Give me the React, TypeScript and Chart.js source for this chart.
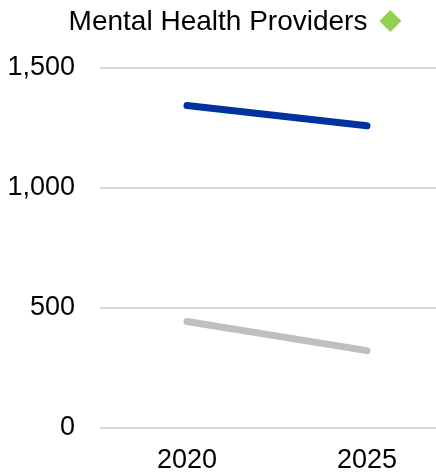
import React, { useEffect, useRef } from "react";
import { Chart, registerables } from "chart.js";

Chart.register(...registerables);

const years = [2020, 2025];
const seriesBlue = [1342, 1258];
const seriesGray = [443, 322];
const yTicks = [0, 500, 1000, 1500];
const titleText = "Mental Health Providers";

const FONT = "'Liberation Sans', Arial, sans-serif";

const diamondPlugin = {
  id: "titleDiamond",
  afterDraw(chart: any) {
    const ctx = chart.ctx;
    ctx.save();
    ctx.font = `28px ${FONT}`;
    const w = ctx.measureText(titleText).width;
    const cx = chart.width / 2 + w / 2 + 23;
    const cy = 21;
    const r = 11;
    ctx.fillStyle = "#92D050";
    ctx.beginPath();
    ctx.moveTo(cx, cy - r);
    ctx.lineTo(cx + r, cy);
    ctx.lineTo(cx, cy + r);
    ctx.lineTo(cx - r, cy);
    ctx.closePath();
    ctx.fill();
    ctx.restore();
  },
};

export default function App() {
  const ref = useRef<HTMLCanvasElement | null>(null);
  useEffect(() => {
    if (!ref.current) return;
    const chart = new Chart(ref.current, {
      type: "line",
      data: {
        datasets: [
          {
            data: years.map((x, i) => ({ x, y: seriesBlue[i] })),
            borderColor: "#0033A0",
            borderWidth: 7,
            borderCapStyle: "round",
            pointRadius: 0,
          },
          {
            data: years.map((x, i) => ({ x, y: seriesGray[i] })),
            borderColor: "#BFBFBF",
            borderWidth: 7,
            borderCapStyle: "round",
            pointRadius: 0,
          },
        ],
      },
      options: {
        animation: false,
        responsive: false,
        layout: { padding: { left: 0, right: 0, top: 0, bottom: 0 } },
        plugins: {
          legend: { display: false },
          tooltip: { enabled: false },
          title: {
            display: true,
            text: titleText,
            color: "#000",
            font: { family: FONT, size: 28, weight: "normal" },
            padding: { top: 5, bottom: 29 },
          },
        },
        scales: {
          x: {
            type: "linear",
            min: 2017.583,
            max: 2026.917,
            grid: { display: false, drawTicks: false },
            border: { display: false },
            afterBuildTicks: (s: any) => {
              s.ticks = years.map((v) => ({ value: v }));
            },
            afterFit: (s: any) => {
              s.height = 45;
            },
            ticks: {
              color: "#000",
              padding: 16,
              font: { family: FONT, size: 27 },
              callback: (v: any) => String(v),
              maxRotation: 0,
            },
          },
          y: {
            min: 0,
            max: 1500,
            afterBuildTicks: (s: any) => {
              s.ticks = yTicks.map((v) => ({ value: v }));
            },
            afterFit: (s: any) => {
              s.width = 100;
            },
            grid: { color: "#D9D9D9", lineWidth: 2, drawTicks: false },
            border: { display: false },
            ticks: {
              color: "#000",
              padding: 25,
              font: { family: FONT, size: 27 },
              callback: (v: any) => Number(v).toLocaleString("en-US"),
            },
          },
        },
      },
      plugins: [diamondPlugin],
    } as any);
    return () => chart.destroy();
  }, []);
  return (
    <div style={{ position: "absolute", left: 0, top: 0, width: 436, height: 473 }}>
      <canvas ref={ref} width={436} height={473} style={{ display: "block" }} />
    </div>
  );
}
